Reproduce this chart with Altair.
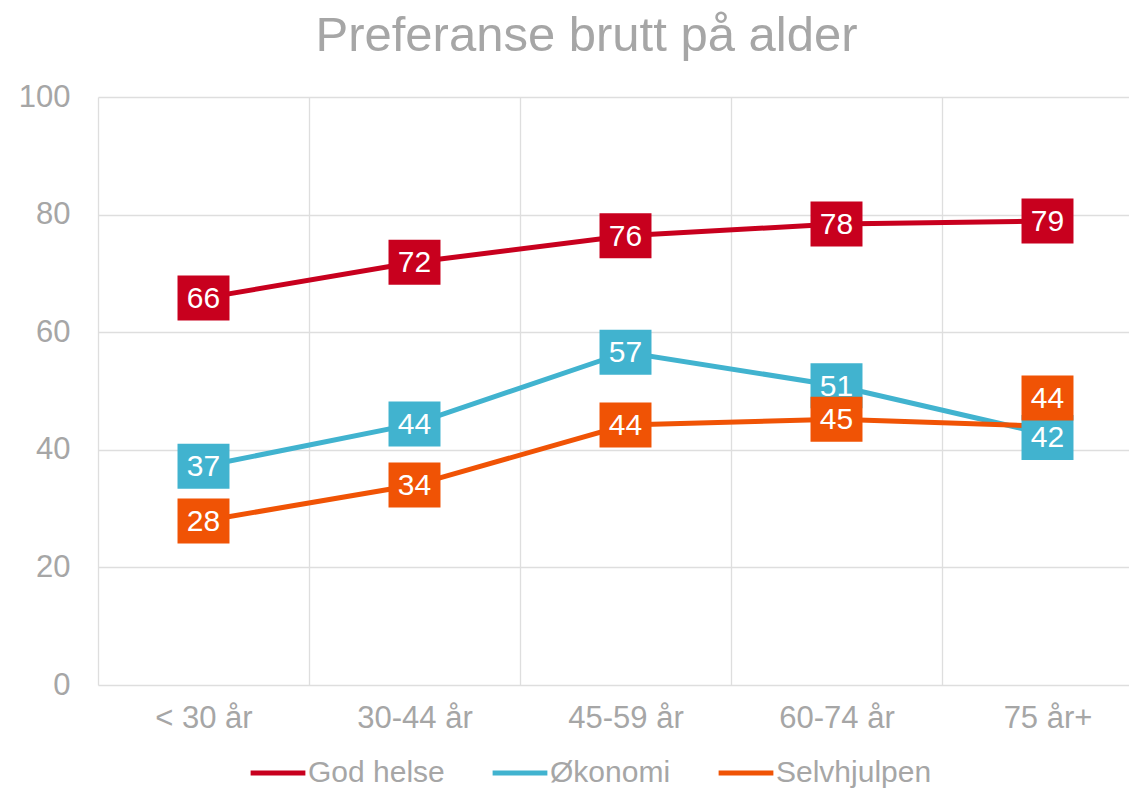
import altair as alt
import pandas as pd

categories = ["< 30 år", "30-44 år", "45-59 år", "60-74 år", "75 år+"]
series_names = ["God helse", "Økonomi", "Selvhjulpen"]
series_colors = ["#C8001E", "#41B3CF", "#F05305"]

god_helse = [65.8, 71.9, 76.4, 78.4, 78.9]
okonomi = [37.2, 44.4, 56.6, 50.9, 42.6]
selvhjulpen = [27.9, 34.0, 44.2, 45.2, 44.0]

god_helse_labels = ["66", "72", "76", "78", "79"]
okonomi_labels = ["37", "44", "57", "51", "42"]
selvhjulpen_labels = ["28", "34", "44", "45", "44"]

# label anchor values (data units); shifted only where Excel moved overlapping labels
god_helse_label_at = [65.8, 71.9, 76.4, 78.4, 78.9]
okonomi_label_at = [37.2, 44.4, 56.6, 50.9, 42.1]
selvhjulpen_label_at = [27.9, 34.0, 44.2, 45.2, 48.8]

rows = []
for name, vals, labs, pos in [
    ("God helse", god_helse, god_helse_labels, god_helse_label_at),
    ("Økonomi", okonomi, okonomi_labels, okonomi_label_at),
    ("Selvhjulpen", selvhjulpen, selvhjulpen_labels, selvhjulpen_label_at),
]:
    for i, c in enumerate(categories):
        rows.append({"alder": c, "serie": name, "verdi": vals[i], "etikett": labs[i], "pos": pos[i], "orden": series_names.index(name)})
df = pd.DataFrame(rows)

GRAY = "#A6A6A6"
FONT = "Liberation Sans"

xenc = alt.X(
    "alder:N",
    sort=categories,
    bandPosition=0.5,
    title=None,
    scale=alt.Scale(type="band", paddingInner=0, paddingOuter=0, range=[0, 1055]),
    axis=alt.Axis(
        tickBand="extent", grid=True, ticks=False, domain=False, labelAngle=0,
        labelFontSize=31, labelColor=GRAY, labelFont=FONT, labelPadding=18,
        gridColor="#DEDEDE", gridWidth=1.3,
    ),
)
yscale = alt.Scale(domain=[0, 100], nice=False)
color = alt.Color(
    "serie:N",
    sort=series_names,
    scale=alt.Scale(domain=series_names, range=series_colors),
    legend=alt.Legend(
        title=None, orient="none", direction="horizontal", legendX=150, legendY=646,
        symbolType="stroke", symbolStrokeWidth=5, symbolSize=3000, labelFontSize=30,
        labelColor=GRAY, labelFont=FONT, labelOffset=0, columnPadding=37, padding=0,
    ),
)

base = alt.Chart(df)

lines = base.mark_line(strokeWidth=5).encode(
    x=xenc,
    y=alt.Y(
        "verdi:Q", scale=yscale, title=None,
        axis=alt.Axis(
            values=[0, 20, 40, 60, 80, 100], ticks=False, domain=False,
            labelFontSize=31, labelColor=GRAY, labelFont=FONT, labelPadding=28,
            gridColor="#DEDEDE", gridWidth=1.3,
        ),
    ),
    color=color,
    order=alt.Order("orden:Q"),
)

boxes = base.mark_point(
    shape="M-1.155,-1H1.155V1H-1.155Z", filled=True, opacity=1, size=2025, strokeWidth=0
).encode(
    x=xenc,
    y=alt.Y("pos:Q", scale=yscale),
    color=alt.Color("serie:N", sort=series_names, scale=alt.Scale(domain=series_names, range=series_colors), legend=None),
)

texts = base.mark_text(
    color="white", fontSize=30, font=FONT, align="center", baseline="middle", dy=1
).encode(
    x=xenc,
    y=alt.Y("pos:Q", scale=yscale),
    text="etikett:N",
)

chart = (
    alt.layer(lines, boxes, texts)
    .properties(
        width=1031,
        height=588,
        autosize=alt.AutoSizeParams(type="none"),
        padding={"left": 90, "top": 89, "right": 0, "bottom": 104},
        title=alt.TitleParams(
            "Preferanse brutt på alder", fontSize=49, font=FONT, color=GRAY,
            fontWeight="normal", anchor="middle", dx=-27, offset=20,
        ),
    )
    .configure_view(stroke=None)
)

chart.save("out.html", embed_options={"renderer": "svg", "actions": False})
